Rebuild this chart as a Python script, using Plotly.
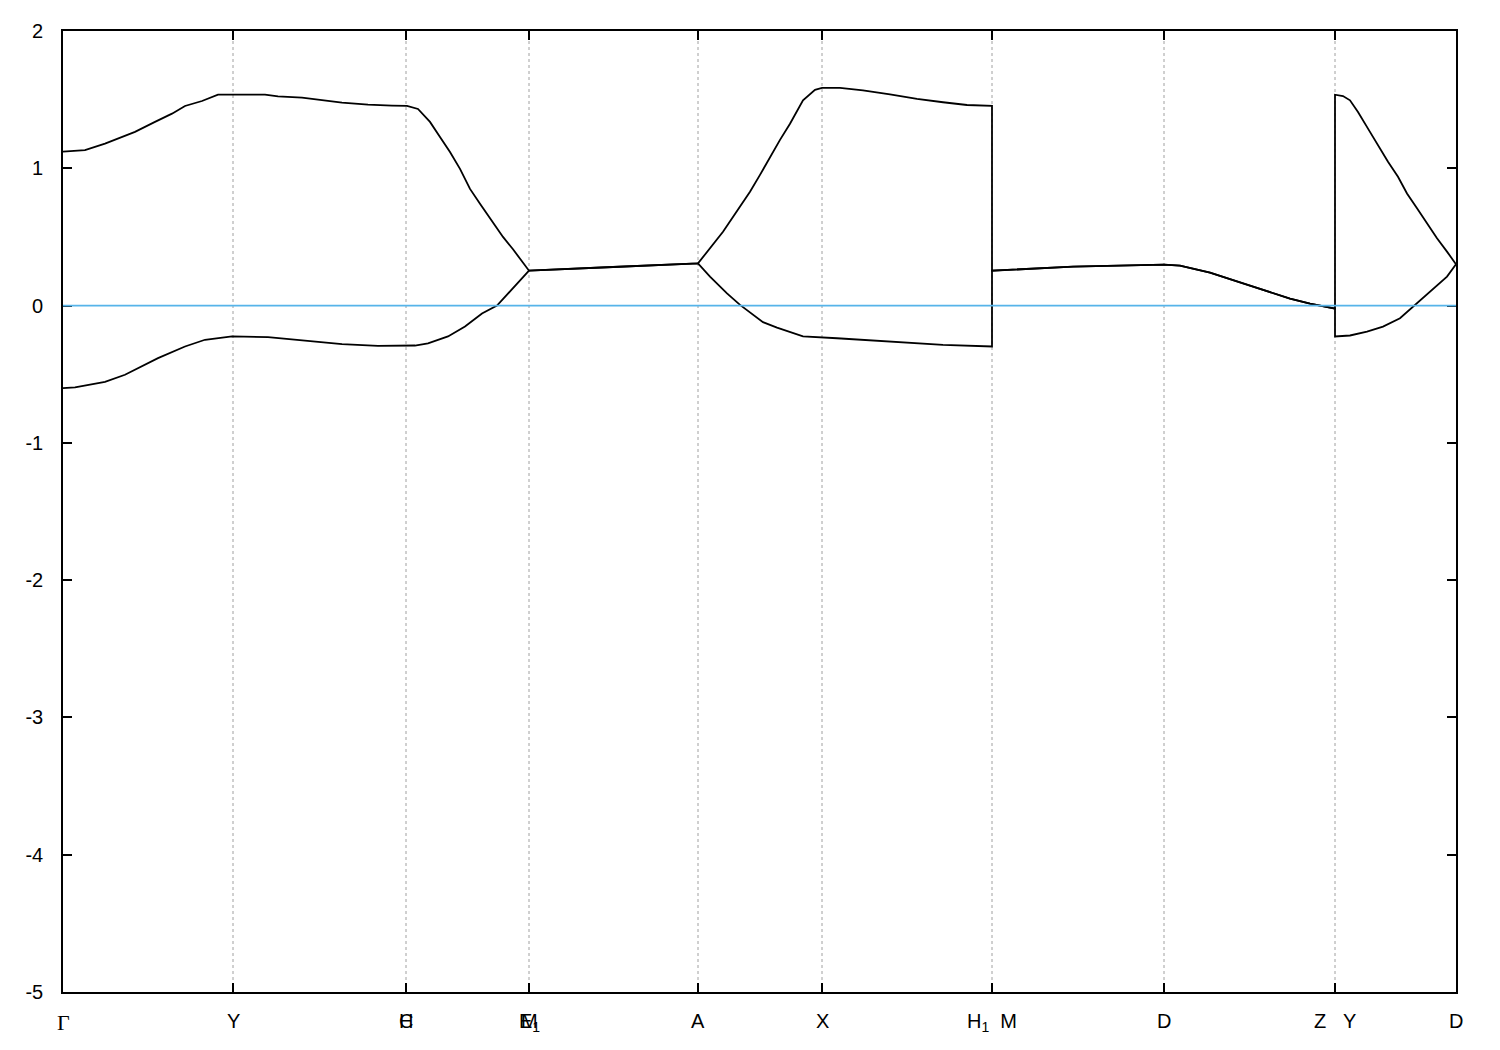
import plotly.graph_objects as go

# High-symmetry points along the k-path (arbitrary path units)
tick_pos = [0.0, 1.70, 3.43, 3.43, 4.66, 4.66, 6.35, 7.59, 9.29, 11.01, 12.72, 13.93]
tick_lab = ["<span style='font-family:Liberation Serif;font-size:22px'>Γ</span>", "Y", "C", "H", "M",
            "E<sub>1</sub>", "A", "X", "H<sub>1</sub>\u00a0\u00a0M", "D", "Z\u00a0\u00a0\u00a0Y", "D"]
grid_pos = [1.70, 3.43, 4.66, 6.35, 7.59, 9.29, 11.01, 12.72]

# Lower band (k, E)
k_low = [0.0, 0.12, 0.42, 0.62, 0.95, 1.22, 1.42, 1.69, 2.05, 2.45, 2.79, 3.15, 3.52, 3.65,
         3.85, 4.02, 4.19, 4.34, 4.50, 4.66,
         5.50, 6.35,
         6.47, 6.64, 6.77, 7.00, 7.14, 7.40, 7.74, 8.20, 8.80, 9.29,
         9.29, 10.10, 11.01, 11.17, 11.47, 11.87, 12.27, 12.47, 12.72,
         12.72, 12.87, 13.04, 13.20, 13.37, 13.52, 13.70, 13.84, 13.93]
e_low = [-0.601, -0.596, -0.555, -0.504, -0.383, -0.298, -0.249, -0.225, -0.230, -0.257, -0.281,
         -0.293, -0.291, -0.276, -0.225, -0.153, -0.058, 0.0, 0.124, 0.254,
         0.281, 0.307,
         0.211, 0.089, 0.005, -0.121, -0.160, -0.225, -0.238, -0.257, -0.286, -0.298,
         0.254, 0.283, 0.298, 0.291, 0.240, 0.145, 0.051, 0.015, -0.022,
         -0.225, -0.218, -0.189, -0.153, -0.092, 0.005, 0.126, 0.211, 0.301]

# Upper band (k, E)
k_up = [0.0, 0.22, 0.42, 0.62, 0.72, 0.92, 1.09, 1.22, 1.39, 1.55, 1.70, 2.02, 2.15, 2.39, 2.79,
        3.05, 3.29, 3.44, 3.55, 3.67, 3.77, 3.87, 3.97, 4.07, 4.17, 4.27, 4.40, 4.50, 4.58, 4.66,
        5.50, 6.35,
        6.60, 6.70, 6.87, 6.97, 7.07, 7.17, 7.27, 7.40, 7.52, 7.59, 7.77, 8.00, 8.27, 8.54,
        8.80, 9.04, 9.29,
        9.29, 10.10, 11.01, 11.17, 11.47, 11.87, 12.27, 12.47, 12.72,
        12.72, 12.80, 12.87, 12.95, 13.05, 13.17, 13.25, 13.35, 13.44, 13.54, 13.64, 13.74,
        13.84, 13.93]
e_up = [1.122, 1.132, 1.180, 1.236, 1.265, 1.338, 1.398, 1.454, 1.490, 1.536, 1.536, 1.536,
        1.524, 1.514, 1.478, 1.463, 1.456, 1.454, 1.432, 1.338, 1.228, 1.119, 0.996, 0.850,
        0.741, 0.632, 0.500, 0.410, 0.330, 0.254,
        0.281, 0.307,
        0.538, 0.647, 0.829, 0.952, 1.083, 1.207, 1.325, 1.495, 1.572, 1.585, 1.585, 1.568,
        1.539, 1.505, 1.481, 1.461, 1.454,
        0.254, 0.283, 0.298, 0.291, 0.240, 0.145, 0.051, 0.015, -0.022,
        1.536, 1.526, 1.495, 1.410, 1.289, 1.144, 1.047, 0.938, 0.817, 0.708, 0.599, 0.490,
        0.393, 0.301]

y_ticks = [-5, -4, -3, -2, -1, 0, 1, 2]
y_tick_text = ["-5", "-4", "-3", "-2", "-1", "0", "1", "2"]
x_range = [0.0, 13.93]
y_range = [-5, 2]

FONT = "Liberation Sans, Arial"

fig = go.Figure()
for kk, ee in [(k_low, e_low), (k_up, e_up)]:
    fig.add_trace(go.Scatter(x=kk, y=ee, mode="lines",
                             line=dict(color="black", width=1.8),
                             showlegend=False, hoverinfo="skip"))

# Fermi level
fig.add_shape(type="line", xref="paper", yref="y", x0=0, x1=1, y0=0, y1=0,
              line=dict(color="#56B4E9", width=1.8), layer="above")

# vertical dotted grid lines
for g in grid_pos:
    fig.add_shape(type="line", xref="x", yref="paper", x0=g, x1=g, y0=0, y1=1,
                  line=dict(color="#A0A0A0", width=1, dash="dot"), layer="below")

# x labels (some share a position)
for p, t in zip(tick_pos, tick_lab):
    fig.add_annotation(x=p, y=0, xref="x", yref="paper", text=t, showarrow=False,
                       yanchor="top", yshift=-16,
                       font=dict(size=20, color="black", family=FONT))

fig.update_xaxes(range=x_range, tickvals=sorted(set(tick_pos)), ticktext=[""] * len(set(tick_pos)),
                 ticks="inside", ticklen=9, tickcolor="black", tickwidth=1.5,
                 showgrid=False, zeroline=False, showline=True, linecolor="black",
                 linewidth=1.6, mirror="ticks")
fig.update_yaxes(range=y_range, tickvals=y_ticks, ticktext=y_tick_text, ticks="inside", ticklen=9,
                 tickcolor="black", tickwidth=1.5, showgrid=False, zeroline=False,
                 showline=True, linecolor="black", linewidth=1.6, mirror="ticks",
                 ticklabelstandoff=14, tickfont=dict(size=20, color="black", family=FONT))

fig.update_layout(width=1500, height=1050, plot_bgcolor="white", paper_bgcolor="white",
                  margin=dict(l=55, r=52, t=21, b=66, pad=0),
                  font=dict(family=FONT, size=20, color="black"))

fig.write_html("out.html")
